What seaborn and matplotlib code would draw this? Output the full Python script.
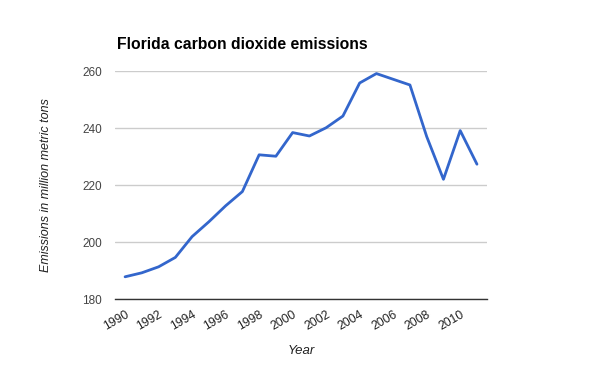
import numpy as np
import pandas as pd
import matplotlib
matplotlib.use("Agg")
import matplotlib.pyplot as plt
import seaborn as sns

# Florida CO2 emissions (million metric tons)
years = list(range(1990, 2012))
emissions = [187.8, 189.2, 191.3, 194.6, 201.9, 207.1, 212.7, 217.7, 230.6, 230.1,
             238.4, 237.2, 240.1, 244.2, 255.8, 259.1, 257.1, 255.1, 237.0, 222.0,
             239.1, 227.3]
y_ticks = [180, 200, 220, 240, 260]
x_ticks = list(range(1990, 2011, 2))

df = pd.DataFrame({"Year": years, "Emissions": emissions})

sns.set_style("white")
plt.rcParams['font.family'] = ['Liberation Sans', 'DejaVu Sans']

fig = plt.figure(figsize=(6, 3.71), dpi=100)
ax = fig.add_axes([0.1917, 0.194, 0.62, 0.6146])

sns.lineplot(x="Year", y="Emissions", data=df, ax=ax, color="#3366cc", linewidth=2)

ax.set_xlim(1989.4, 2011.6)
ax.set_ylim(180, 260)
ax.set_yticks(y_ticks)
ax.set_xticks(x_ticks)
ax.set_xticklabels([str(t) for t in x_ticks], rotation=30, ha="right",
                   rotation_mode="anchor", color="#222222", fontsize=8.8)
ax.set_yticklabels([str(t) for t in y_ticks], color="#444444", fontsize=8.5)
ax.tick_params(axis="x", length=0, pad=7)
ax.tick_params(axis="y", length=0, pad=9.4)
ax.grid(axis="y", color="#cccccc", linewidth=1)
ax.set_axisbelow(True)
for s in ["top", "right", "left"]:
    ax.spines[s].set_visible(False)
ax.spines["bottom"].set_color("#333333")
ax.spines["bottom"].set_linewidth(1)
ax.spines["bottom"].set_zorder(3)

ax.set_xlabel("Year", fontstyle="italic", fontsize=9.5, color="#222222", labelpad=9)
ax.set_ylabel("Emissions in million metric tons", fontstyle="italic", fontsize=9,
              color="#222222", labelpad=22)
ax.set_title("Florida carbon dioxide emissions", fontweight="bold", fontsize=11.3,
             loc="left", x=0.004, pad=16, color="black")

fig.savefig("out.png", dpi=100)
